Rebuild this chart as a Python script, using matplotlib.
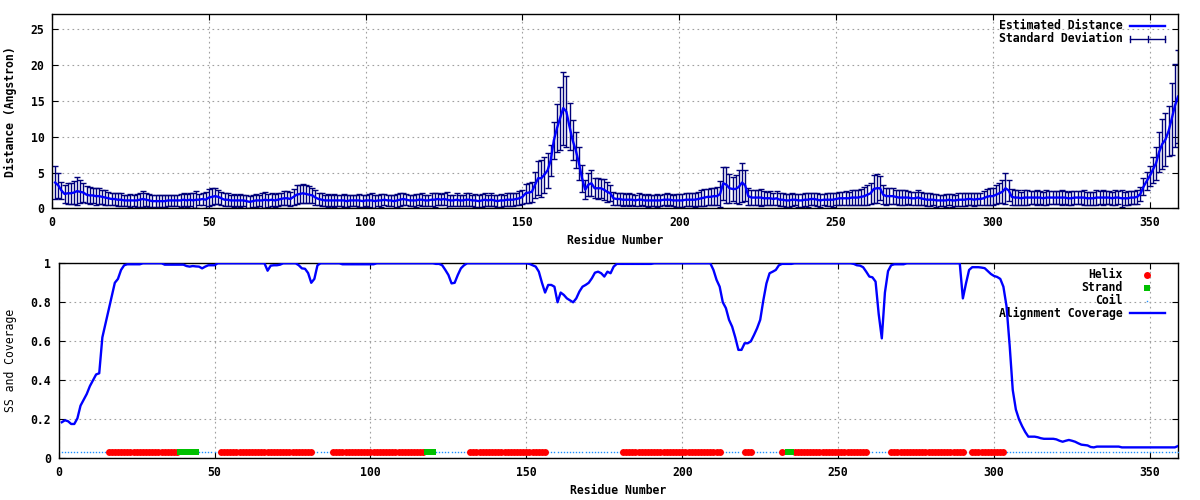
import matplotlib
matplotlib.use('Agg')
import matplotlib.pyplot as plt
import numpy as np

plt.rcParams['font.family'] = ['DejaVu Sans Mono', 'DejaVu Sans']
plt.rcParams['font.weight'] = 'bold'

residues = list(range(1, 360))

distance = [
    3.6, 3.2, 2.5, 2.0, 2.1, 2.1, 2.2, 2.4, 2.3, 2.2,
    1.9, 1.8, 1.8, 1.7, 1.7, 1.6, 1.5, 1.4, 1.3, 1.3,
    1.2, 1.2, 1.1, 1.1, 1.1, 1.1, 1.1, 1.2, 1.3, 1.2,
    1.1, 1.0, 1.0, 1.0, 1.0, 1.0, 1.1, 1.1, 1.1, 1.1,
    1.1, 1.2, 1.1, 1.2, 1.1, 1.2, 1.2, 1.3, 1.2, 1.5,
    1.6, 1.7, 1.6, 1.4, 1.2, 1.2, 1.1, 1.1, 1.1, 1.1,
    1.1, 1.0, 0.9, 1.0, 1.1, 1.1, 1.1, 1.2, 1.1, 1.2,
    1.1, 1.2, 1.3, 1.4, 1.4, 1.3, 1.6, 1.9, 2.0, 2.1,
    2.0, 1.9, 1.8, 1.5, 1.3, 1.2, 1.1, 1.1, 1.1, 1.1,
    1.1, 1.1, 1.1, 1.0, 1.1, 1.1, 1.1, 1.1, 1.0, 1.1,
    1.1, 1.1, 1.0, 1.1, 1.1, 1.2, 1.1, 1.1, 1.0, 1.1,
    1.2, 1.3, 1.2, 1.1, 1.1, 1.1, 1.2, 1.2, 1.1, 1.1,
    1.2, 1.2, 1.3, 1.2, 1.3, 1.2, 1.1, 1.1, 1.2, 1.1,
    1.1, 1.2, 1.2, 1.1, 1.1, 1.0, 1.1, 1.2, 1.1, 1.2,
    1.1, 1.0, 1.1, 1.1, 1.2, 1.2, 1.2, 1.3, 1.4, 1.6,
    2.1, 2.2, 2.3, 3.3, 4.2, 4.2, 4.7, 5.3, 6.7, 9.5,
    11.2, 12.6, 14.0, 13.5, 11.4, 9.5, 8.1, 6.3, 4.2, 2.6,
    3.3, 3.5, 2.8, 2.8, 2.8, 2.6, 2.3, 2.1, 1.4, 1.3,
    1.3, 1.2, 1.2, 1.2, 1.2, 1.1, 1.2, 1.2, 1.1, 1.1,
    1.1, 1.1, 1.1, 1.1, 1.2, 1.2, 1.2, 1.1, 1.1, 1.1,
    1.1, 1.2, 1.2, 1.2, 1.2, 1.3, 1.4, 1.5, 1.6, 1.6,
    1.7, 1.7, 2.0, 3.5, 3.3, 2.8, 2.7, 2.7, 3.0, 3.6,
    3.2, 1.7, 1.5, 1.5, 1.5, 1.5, 1.4, 1.4, 1.4, 1.3,
    1.4, 1.2, 1.2, 1.1, 1.1, 1.2, 1.2, 1.1, 1.1, 1.2,
    1.2, 1.3, 1.3, 1.2, 1.1, 1.2, 1.2, 1.2, 1.2, 1.3,
    1.4, 1.4, 1.4, 1.4, 1.5, 1.5, 1.5, 1.6, 1.7, 1.9,
    2.1, 2.7, 2.8, 2.8, 1.9, 1.7, 1.7, 1.7, 1.6, 1.5,
    1.5, 1.5, 1.5, 1.4, 1.4, 1.5, 1.4, 1.3, 1.2, 1.2,
    1.2, 1.1, 1.1, 1.1, 1.1, 1.2, 1.1, 1.1, 1.2, 1.2,
    1.2, 1.3, 1.3, 1.2, 1.3, 1.3, 1.4, 1.6, 1.7, 1.7,
    1.9, 2.1, 2.3, 2.8, 2.5, 1.6, 1.5, 1.5, 1.4, 1.5,
    1.5, 1.5, 1.5, 1.5, 1.5, 1.4, 1.5, 1.5, 1.5, 1.5,
    1.5, 1.5, 1.5, 1.4, 1.4, 1.5, 1.5, 1.5, 1.5, 1.4,
    1.4, 1.4, 1.5, 1.5, 1.5, 1.5, 1.5, 1.4, 1.5, 1.5,
    1.4, 1.4, 1.4, 1.5, 1.5, 1.6, 2.0, 3.0, 3.8, 4.5,
    5.4, 6.3, 7.9, 9.0, 9.6, 10.8, 12.5, 14.3, 15.6,
]

std_dev = [
    2.3, 1.7, 1.2, 1.3, 1.5, 1.5, 1.6, 2.0, 1.6, 1.3,
    1.2, 1.2, 1.1, 1.2, 1.1, 1.0, 1.0, 0.9, 0.9, 0.9,
    0.9, 0.9, 0.8, 0.8, 0.9, 0.8, 0.9, 1.0, 1.1, 0.9,
    0.9, 0.8, 0.8, 0.8, 0.8, 0.8, 0.8, 0.8, 0.8, 0.8,
    0.9, 0.9, 0.9, 0.9, 1.0, 1.2, 0.8, 0.9, 1.1, 1.2,
    1.2, 1.1, 1.0, 0.9, 0.9, 0.9, 0.8, 0.9, 0.8, 0.9,
    0.8, 0.9, 0.8, 0.8, 0.9, 0.8, 1.0, 1.1, 0.9, 0.9,
    0.9, 0.9, 0.9, 1.0, 1.0, 1.0, 1.1, 1.3, 1.3, 1.3,
    1.3, 1.2, 1.1, 1.0, 0.9, 0.9, 0.8, 0.9, 0.8, 0.9,
    0.8, 0.8, 0.9, 0.8, 0.8, 0.8, 0.8, 0.9, 0.8, 0.8,
    0.9, 1.0, 0.9, 0.8, 0.9, 0.8, 0.8, 0.8, 0.9, 0.9,
    0.9, 0.9, 0.8, 0.8, 0.8, 0.9, 0.8, 0.9, 0.8, 0.8,
    0.9, 1.0, 0.9, 0.8, 0.9, 1.1, 0.8, 0.8, 0.9, 0.8,
    0.8, 0.9, 0.9, 0.8, 0.9, 0.8, 0.9, 0.9, 0.8, 0.9,
    0.8, 0.8, 0.9, 0.8, 0.9, 0.9, 0.9, 0.9, 1.0, 1.0,
    1.3, 1.4, 1.4, 1.8, 2.4, 2.6, 2.5, 2.4, 2.2, 2.6,
    3.4, 4.4, 5.1, 5.0, 3.3, 2.8, 2.5, 2.3, 1.9, 1.3,
    1.6, 1.8, 1.4, 1.5, 1.3, 1.5, 1.4, 1.1, 0.9, 0.9,
    0.9, 0.9, 0.8, 0.9, 0.8, 0.8, 0.9, 0.8, 0.8, 0.9,
    0.8, 0.8, 0.9, 0.8, 0.8, 0.9, 0.8, 0.8, 0.9, 0.9,
    0.9, 0.9, 0.9, 0.9, 1.0, 1.0, 1.1, 1.2, 1.1, 1.2,
    1.2, 1.3, 1.8, 2.3, 2.5, 2.0, 1.7, 2.0, 2.4, 2.7,
    2.2, 1.2, 1.0, 1.0, 1.0, 1.2, 1.0, 0.9, 1.0, 0.9,
    1.0, 0.9, 0.9, 0.9, 0.9, 0.9, 0.8, 0.9, 0.9, 0.9,
    1.0, 0.9, 0.9, 0.9, 0.9, 0.8, 0.9, 0.9, 1.0, 0.9,
    0.9, 0.9, 1.0, 0.9, 1.0, 1.0, 1.0, 1.1, 1.3, 1.4,
    1.5, 1.9, 2.0, 1.7, 1.3, 1.2, 1.1, 1.1, 1.0, 1.0,
    1.0, 1.0, 0.9, 0.9, 0.9, 1.0, 0.9, 0.9, 0.9, 0.9,
    0.8, 0.9, 0.8, 0.8, 0.9, 0.8, 0.9, 0.8, 0.9, 0.9,
    0.9, 0.9, 0.9, 0.9, 0.9, 0.9, 1.0, 1.1, 1.2, 1.2,
    1.3, 1.4, 1.6, 2.2, 1.5, 1.1, 1.0, 1.0, 0.9, 1.0,
    1.0, 0.9, 0.9, 1.0, 0.9, 0.9, 1.0, 0.9, 0.9, 0.9,
    0.9, 1.0, 0.9, 0.9, 1.0, 0.9, 0.9, 0.9, 1.0, 0.9,
    0.9, 0.9, 1.0, 0.9, 1.0, 0.9, 0.9, 0.9, 1.0, 0.9,
    1.2, 0.9, 1.0, 0.9, 0.9, 1.0, 1.0, 1.2, 1.3, 1.4,
    1.8, 2.3, 2.8, 3.5, 3.7, 3.5, 5.0, 5.8, 6.5,
]

coverage = [
    0.185, 0.195, 0.19, 0.176, 0.176, 0.205, 0.27, 0.30, 0.33, 0.37,
    0.40, 0.43, 0.436, 0.62, 0.69, 0.76, 0.83, 0.90, 0.92, 0.966,
    0.99, 0.995, 0.995, 0.995, 0.995, 0.995, 1.0, 1.0, 1.0, 1.0,
    1.0, 1.0, 1.0, 0.993, 0.993, 0.993, 0.993, 0.993, 0.993, 0.993,
    0.986, 0.983, 0.986, 0.984, 0.983, 0.974, 0.983, 0.99, 0.99, 0.99,
    1.0, 1.0, 1.0, 1.0, 1.0, 1.0, 1.0, 1.0, 1.0, 1.0,
    1.0, 1.0, 1.0, 1.0, 1.0, 1.0, 0.962, 0.988, 0.99, 0.99,
    0.993, 1.0, 1.0, 1.0, 1.0, 1.0, 0.99, 0.974, 0.972, 0.95,
    0.90, 0.92, 0.99, 1.0, 1.0, 1.0, 1.0, 1.0, 1.0, 1.0,
    0.995, 0.995, 0.995, 0.995, 0.995, 0.995, 0.995, 0.995, 0.995, 0.995,
    0.995, 1.0, 1.0, 1.0, 1.0, 1.0, 1.0, 1.0, 1.0, 1.0,
    1.0, 1.0, 1.0, 1.0, 1.0, 1.0, 1.0, 1.0, 1.0, 1.0,
    0.997, 0.997, 0.99, 0.966, 0.94, 0.897, 0.90, 0.94, 0.974, 0.99,
    1.0, 1.0, 1.0, 1.0, 1.0, 1.0, 1.0, 1.0, 1.0, 1.0,
    1.0, 1.0, 1.0, 1.0, 1.0, 1.0, 1.0, 1.0, 1.0, 1.0,
    0.997, 0.99, 0.983, 0.957, 0.90, 0.85, 0.889, 0.889, 0.88, 0.80,
    0.85, 0.838, 0.82, 0.81, 0.80, 0.82, 0.855, 0.88, 0.889, 0.90,
    0.923, 0.952, 0.957, 0.949, 0.932, 0.957, 0.949, 0.983, 0.997, 0.997,
    0.997, 0.997, 0.997, 0.997, 0.997, 0.997, 0.997, 0.997, 0.997, 0.997,
    1.0, 1.0, 1.0, 1.0, 1.0, 1.0, 1.0, 1.0, 1.0, 1.0,
    1.0, 1.0, 1.0, 1.0, 1.0, 1.0, 1.0, 1.0, 1.0, 0.966,
    0.915, 0.88, 0.80, 0.77, 0.71, 0.675, 0.62, 0.556, 0.556, 0.59,
    0.59, 0.60, 0.632, 0.667, 0.71, 0.81, 0.897, 0.949, 0.957, 0.966,
    0.99, 0.997, 0.997, 0.997, 0.997, 1.0, 1.0, 1.0, 1.0, 1.0,
    1.0, 1.0, 1.0, 1.0, 1.0, 1.0, 1.0, 1.0, 1.0, 1.0,
    1.0, 1.0, 1.0, 1.0, 0.997, 0.99, 0.988, 0.98, 0.957, 0.932,
    0.928, 0.906, 0.74, 0.615, 0.85, 0.96, 0.99, 0.995, 0.995, 0.995,
    0.995, 1.0, 1.0, 1.0, 1.0, 1.0, 1.0, 1.0, 1.0, 1.0,
    1.0, 1.0, 1.0, 1.0, 1.0, 1.0, 1.0, 1.0, 1.0, 0.82,
    0.897, 0.966, 0.98, 0.98, 0.98, 0.978, 0.975, 0.96, 0.945, 0.935,
    0.93, 0.92, 0.88, 0.78, 0.58, 0.35, 0.25, 0.20, 0.165, 0.135,
    0.111, 0.111, 0.111, 0.108, 0.103, 0.10, 0.10, 0.10, 0.10, 0.097,
    0.09, 0.085, 0.09, 0.094, 0.09, 0.085, 0.077, 0.07, 0.068, 0.066,
    0.058, 0.056, 0.06, 0.06, 0.06, 0.06, 0.06, 0.06, 0.06, 0.06,
    0.056, 0.056, 0.056, 0.056, 0.056, 0.056, 0.056, 0.056, 0.056, 0.056,
    0.056, 0.056, 0.056, 0.056, 0.056, 0.056, 0.056, 0.056, 0.063,
]

# secondary structure segments: (first residue, last residue, type)
ss_segments = [
    (1, 15, 'C'), (16, 38, 'H'), (39, 44, 'E'), (45, 51, 'C'),
    (52, 81, 'H'), (82, 87, 'C'), (88, 117, 'H'), (118, 120, 'E'),
    (121, 131, 'C'), (132, 156, 'H'), (157, 180, 'C'), (181, 212, 'H'),
    (213, 219, 'C'), (220, 222, 'H'), (223, 231, 'C'), (232, 232, 'H'),
    (233, 233, 'C'), (234, 235, 'E'), (236, 259, 'H'), (260, 266, 'C'),
    (267, 290, 'H'), (291, 292, 'C'), (293, 303, 'H'), (304, 359, 'C'),
]
ss_level = 0.03

x_ticks = [0, 50, 100, 150, 200, 250, 300, 350]
top_yticks = [0, 5, 10, 15, 20, 25]
bot_yticks = [0, 0.2, 0.4, 0.6, 0.8, 1.0]
bot_yticklabels = ['0', '0.2', '0.4', '0.6', '0.8', '1']

FS = 8.3
ERR_COLOR = '#00007a'
LINE_COLOR = '#0000ff'
grid_kw = dict(color='#a0a0a0', linestyle=(0, (1.5, 3)), linewidth=0.8)

fig = plt.figure(figsize=(12, 5), dpi=100)
W, H = 1200.0, 500.0

def style_axes(ax):
    ax.set_axisbelow(True)
    ax.grid(True, **grid_kw)
    ax.tick_params(direction='in', length=4, width=0.8, top=True, right=True,
                   labelsize=FS, pad=5.5)
    for s in ax.spines.values():
        s.set_linewidth(1.0)
    for lbl in ax.get_xticklabels() + ax.get_yticklabels():
        lbl.set_fontweight('bold')

# ---------- top panel ----------
ax1 = fig.add_axes([52 / W, 1 - 208.3 / H, (1178 - 52) / W, (208.3 - 14.3) / H])
ax1.errorbar(residues, distance, yerr=std_dev, fmt='none', ecolor=ERR_COLOR,
             elinewidth=1.0, capsize=2.5, capthick=1.0, zorder=2)
ax1.plot(residues, distance, color=LINE_COLOR, lw=1.7, zorder=3)
ax1.set_xlim(0, 359)
ax1.set_ylim(0, 27.1)
ax1.set_xticks(x_ticks)
ax1.set_yticks(top_yticks)
style_axes(ax1)

# top legend
t = ax1.transAxes
ax1.text(0.951, 0.9397, 'Estimated Distance', transform=t, ha='right', va='center',
         fontsize=FS, fontweight='bold')
ax1.plot([0.9574, 0.9885], [0.9397, 0.9397], transform=t, color=LINE_COLOR, lw=1.7,
         clip_on=False)
ax1.text(0.951, 0.8727, 'Standard Deviation', transform=t, ha='right', va='center',
         fontsize=FS, fontweight='bold')
ye = 0.8727
dh = 3.0 / 194
ax1.plot([0.9574, 0.9885], [ye, ye], transform=t, color=ERR_COLOR, lw=1.0, clip_on=False)
for xx in (0.9574, 0.973, 0.9885):
    ax1.plot([xx, xx], [ye - dh, ye + dh], transform=t, color=ERR_COLOR, lw=1.0,
             clip_on=False)

# ---------- bottom panel ----------
ax2 = fig.add_axes([58.7 / W, 1 - 458.3 / H, (1178 - 58.7) / W, (458.3 - 263.3) / H])
ss_x = {'H': [], 'E': [], 'C': []}
for a, b, kind in ss_segments:
    ss_x[kind].extend(range(a, b + 1))
ax2.plot(ss_x['C'], [ss_level] * len(ss_x['C']), ls='none', marker='s', ms=1.0,
         mew=0, color='#1e90ff', zorder=3)
ax2.plot(ss_x['H'], [ss_level] * len(ss_x['H']), ls='none', marker='o', ms=5.0,
         mew=0, color='#ff0000', zorder=3)
ax2.plot(ss_x['E'], [ss_level] * len(ss_x['E']), ls='none', marker='s', ms=5.0,
         mew=0, color='#00c000', zorder=3)
ax2.plot(residues, coverage, color=LINE_COLOR, lw=1.7, zorder=4)
ax2.set_xlim(0, 359)
ax2.set_ylim(0, 1)
ax2.set_xticks(x_ticks)
ax2.set_yticks(bot_yticks)
ax2.set_yticklabels(bot_yticklabels)
style_axes(ax2)

t2 = ax2.transAxes
rows = [0.940, 0.875, 0.808, 0.744]
names = ['Helix', 'Strand', 'Coil', 'Alignment Coverage']
for yy, nm in zip(rows, names):
    ax2.text(0.9506, yy, nm, transform=t2, ha='right', va='center', fontsize=FS,
             fontweight='bold')
ax2.plot([0.9726], [rows[0]], transform=t2, marker='o', ms=5.0, mew=0,
         color='#ff0000', clip_on=False)
ax2.plot([0.9726], [rows[1]], transform=t2, marker='s', ms=5.0, mew=0,
         color='#00c000', clip_on=False)
ax2.plot([0.9726], [rows[2]], transform=t2, marker='s', ms=1.0, mew=0,
         color='#1e90ff', clip_on=False)
ax2.plot([0.9571, 0.9884], [rows[3], rows[3]], transform=t2, color=LINE_COLOR, lw=1.7,
         clip_on=False)

# axis labels
fig.text(615 / W, 1 - 240.7 / H, 'Residue Number', ha='center', va='center',
         fontsize=FS, fontweight='bold')
fig.text(618 / W, 1 - 490.7 / H, 'Residue Number', ha='center', va='center',
         fontsize=FS, fontweight='bold')
fig.text(10.5 / W, 1 - 111.3 / H, 'Distance (Angstron)', ha='center', va='center',
         rotation=90, fontsize=FS, fontweight='bold')
fig.text(10.7 / W, 1 - 360.8 / H, 'SS and Coverage', ha='center', va='center',
         rotation=90, fontsize=FS, fontweight='normal')

fig.savefig('out.png', dpi=100)
